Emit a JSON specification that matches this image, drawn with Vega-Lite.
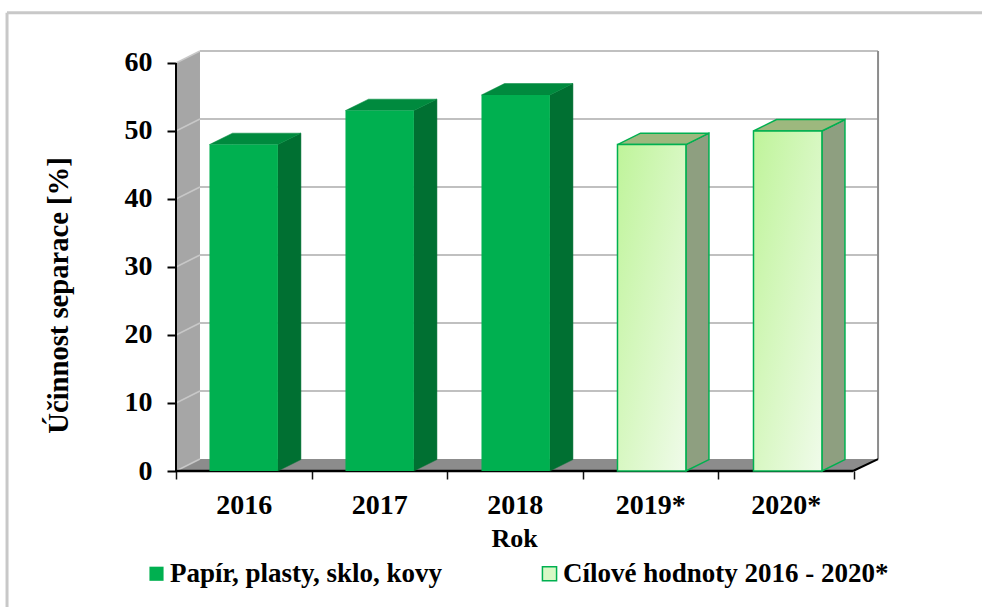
{
"$schema":"https://vega.github.io/schema/vega-lite/v6.json",
"width":703,"height":420,
"autosize":{"type":"none"},
"padding":{"left":176,"top":51,"right":103,"bottom":136},
"background":"#ffffff",
"config":{"view":{"stroke":null},"font":"Liberation Serif","axis":{"labelFont":"Liberation Serif","titleFont":"Liberation Serif"},"legend":{"labelFont":"Liberation Serif"}},
"datasets":{
"bars":[
{"year":"2016","value":48,"series":"Papír, plasty, sklo, kovy"},
{"year":"2017","value":53,"series":"Papír, plasty, sklo, kovy"},
{"year":"2018","value":55.3,"series":"Papír, plasty, sklo, kovy"},
{"year":"2019*","value":48,"series":"Cílové hodnoty 2016 - 2020*"},
{"year":"2020*","value":50,"series":"Cílové hodnoty 2016 - 2020*"}],
"ticks":[{"t":0},{"t":10},{"t":20},{"t":30},{"t":40},{"t":50},{"t":60}],
"corners":[{"c":0},{"c":1}],
"corners4":[{"c":0},{"c":1},{"c":2},{"c":3}]
},
"resolve":{"axis":{"x":"independent"}},
"layer":[
{"data":{"name":"corners"},"transform":[{"calculate":"datum.c*0.177","as":"x"},{"calculate":"datum.c*1.76","as":"y0"},{"calculate":"60+datum.c*1.76","as":"y1"}],
 "mark":{"type":"area","color":"#A6A6A6","orient":"vertical"},
 "encoding":{"x":{"field":"x","type":"quantitative","scale":{"domain":[0,5.188],"nice":false,"zero":false},
   "axis":{"orient":"bottom","values":[0.5,1.5,2.5,3.5,4.5],"labelExpr":"['2016','2017','2018','2019*','2020*'][floor(datum.value)]","tickSize":0,"domain":false,"grid":false,"labelFontSize":28,"labelFontWeight":"bold","labelColor":"#000000","labelPadding":20,"title":"Rok","titleFontSize":26,"titleFontWeight":"bold","titleColor":"#000000","titlePadding":6,"labelOverlap":false,"labelFlush":false,"titleX":338}},
  "y":{"field":"y0","type":"quantitative","scale":{"domain":[0,61.76],"nice":false},
   "axis":{"values":[0,10,20,30,40,50,60],"tickSize":9,"tickWidth":2,"tickColor":"#000000","domain":false,"grid":false,"labelFontSize":28,"labelFontWeight":"bold","labelColor":"#000000","labelPadding":15,"title":"Účinnost separace [%]","titleFontSize":28.6,"titleFontWeight":"bold","titleColor":"#000000","titlePadding":51,"titleY":244}},
  "y2":{"field":"y1"}}},
{"data":{"name":"corners"},
 "mark":{"type":"rule","opacity":0},
 "encoding":{"x":{"field":"c","type":"quantitative","axis":{"orient":"bottom","values":[0,1,2,3,4,5],"labels":false,"tickSize":8,"tickWidth":1.5,"tickColor":"#111111","domain":false,"grid":false,"title":null}}}},
{"data":{"name":"corners4"},"transform":[{"calculate":"[0,0.177,5.004,5.181][datum.c]","as":"x"},{"calculate":"datum.c==3?1.76:0","as":"y0"},{"calculate":"datum.c==0?0:1.76","as":"y1"}],
 "mark":{"type":"area","color":"#8C8C8C","orient":"vertical"},
 "encoding":{"x":{"field":"x","type":"quantitative","axis":null},"y":{"field":"y0","type":"quantitative"},"y2":{"field":"y1"}}},
{"data":{"name":"ticks"},"mark":{"type":"rule","color":"#C0C0C0","strokeWidth":2},
 "transform":[{"filter":"datum.t>0"},{"calculate":"datum.t+1.76","as":"yb"}],
 "encoding":{"x":{"datum":0.177,"type":"quantitative","axis":null},"x2":{"datum":5.181},"y":{"field":"yb","type":"quantitative"}}},
{"data":{"name":"ticks"},"mark":{"type":"rule","color":"#C8C8C8","strokeWidth":1.5},
 "transform":[{"calculate":"datum.t+1.76","as":"yb"}],
 "encoding":{"x":{"datum":0,"type":"quantitative","axis":null},"x2":{"datum":0.177},"y":{"field":"t","type":"quantitative"},"y2":{"field":"yb"}}},
{"data":{"values":[{"a":1}]},"mark":{"type":"rule","color":"#8C8C8C","strokeWidth":2},
 "encoding":{"x":{"datum":5.181,"type":"quantitative","axis":null},"y":{"datum":1.76,"type":"quantitative"},"y2":{"datum":61.76}}},
{"data":{"values":[{"a":1}]},"mark":{"type":"rule","color":"#000000","strokeWidth":2},
 "encoding":{"x":{"datum":0,"type":"quantitative","axis":null},"y":{"datum":0,"type":"quantitative"},"y2":{"datum":60}}},
{"data":{"values":[{"a":1}]},"mark":{"type":"rule","color":"#000000","strokeWidth":2.5},
 "encoding":{"x":{"datum":0,"type":"quantitative","axis":null},"x2":{"datum":4.996},"y":{"datum":0,"type":"quantitative"}}},
{"data":{"values":[{"a":1}]},"mark":{"type":"rule","color":"#000000","strokeWidth":2},
 "encoding":{"x":{"datum":4.996,"type":"quantitative","axis":null},"x2":{"datum":5.181},"y":{"datum":0,"type":"quantitative"},"y2":{"datum":1.76}}},
{"data":{"name":"bars"},
 "transform":[{"window":[{"op":"row_number","as":"n"}]},{"calculate":"0.247+(datum.n-1)*1.0037+0.505","as":"r"},{"calculate":"[0,1]","as":"c"},{"flatten":["c"]},{"calculate":"datum.r+datum.c*0.17","as":"x"},{"calculate":"datum.c*1.68","as":"y0"},{"calculate":"datum.value+datum.c*1.68","as":"y1"}],
 "mark":{"type":"area","orient":"vertical"},
 "encoding":{"x":{"field":"x","type":"quantitative","axis":null},"y":{"field":"y0","type":"quantitative"},"y2":{"field":"y1"},"detail":{"field":"year"},
  "fill":{"condition":{"test":"datum.n<=3","value":"#007032"},"value":"#8E9F80"},
  "stroke":{"condition":{"test":"datum.n<=3","value":"#007032"},"value":"#00B050"},"strokeWidth":{"condition":{"test":"datum.n<=3","value":0.5},"value":1.5}}},
{"data":{"name":"bars"},
 "transform":[{"window":[{"op":"row_number","as":"n"}]},{"calculate":"0.247+(datum.n-1)*1.0037","as":"l"},{"calculate":"[0,1,2,3]","as":"c"},{"flatten":["c"]},{"calculate":"[datum.l,datum.l+0.17,datum.l+0.505,datum.l+0.675][datum.c]","as":"x"},{"calculate":"datum.c==3?datum.value+1.68:datum.value","as":"y0"},{"calculate":"datum.c==0?datum.value:datum.value+1.68","as":"y1"}],
 "mark":{"type":"area","orient":"vertical"},
 "encoding":{"x":{"field":"x","type":"quantitative","axis":null},"y":{"field":"y0","type":"quantitative"},"y2":{"field":"y1"},"detail":{"field":"year"},
  "fill":{"condition":{"test":"datum.n<=3","value":"#008A3E"},"value":"#9DB87E"},
  "stroke":{"condition":{"test":"datum.n<=3","value":"#008A3E"},"value":"#00B050"},"strokeWidth":{"condition":{"test":"datum.n<=3","value":0.5},"value":1.5}}},
{"data":{"name":"bars"},
 "transform":[{"window":[{"op":"row_number","as":"n"}]},{"calculate":"0.247+(datum.n-1)*1.0037","as":"l"},{"calculate":"datum.l+0.505","as":"r"}],
 "mark":{"type":"rect"},
 "encoding":{"x":{"field":"l","type":"quantitative","axis":null},"x2":{"field":"r"},"y":{"field":"value","type":"quantitative"},"y2":{"datum":0},
  "fill":{"field":"series","type":"nominal","scale":{"domain":["Papír, plasty, sklo, kovy","Cílové hodnoty 2016 - 2020*"],"range":["#00B050","#D9F8C6"]},
   "legend":{"orient":"none","legendX":-33,"legendY":509,"direction":"horizontal","columns":2,"title":null,"symbolType":"square","symbolSize":200,"labelFontSize":27,"labelFontWeight":"bold","labelColor":"#000000","labelOffset":0,"columnPadding":93,"labelLimit":400,
   "encode":{"symbols":{"update":{"fill":{"signal":"datum.value=='Papír, plasty, sklo, kovy'?'#00B050':{gradient:'linear',x1:0,y1:0,x2:1,y2:1,stops:[{offset:0,color:'#BFF49A'},{offset:1,color:'#F0FBEA'}]}"},"stroke":{"value":"#00B050"},"strokeWidth":{"signal":"datum.value=='Papír, plasty, sklo, kovy'?0:1.5"}}}}}}}},
{"data":{"name":"bars"},
 "transform":[{"window":[{"op":"row_number","as":"n"}]},{"filter":"datum.n>3"},{"calculate":"0.247+(datum.n-1)*1.0037","as":"l"},{"calculate":"datum.l+0.505","as":"r"}],
 "mark":{"type":"rect","stroke":"#00B050","strokeWidth":1.5,"fill":{"gradient":"linear","x1":0,"y1":0,"x2":1,"y2":1,"stops":[{"offset":0,"color":"#BFF49A"},{"offset":1,"color":"#F0FBEA"}]}},
 "encoding":{"x":{"field":"l","type":"quantitative","axis":null},"x2":{"field":"r"},"y":{"field":"value","type":"quantitative"},"y2":{"datum":0}}},
{"data":{"values":[{"a":1}]},"mark":{"type":"rule","color":"#C8C8C8","strokeWidth":3},
 "encoding":{"x":{"datum":-1.247,"type":"quantitative","axis":null},"x2":{"datum":5.95},"y":{"datum":67.4,"type":"quantitative"}}},
{"data":{"values":[{"a":1}]},"mark":{"type":"rule","color":"#C8C8C8","strokeWidth":3},
 "encoding":{"x":{"datum":-1.247,"type":"quantitative","axis":null},"y":{"datum":67.4,"type":"quantitative"},"y2":{"datum":-20}}}
]
}
